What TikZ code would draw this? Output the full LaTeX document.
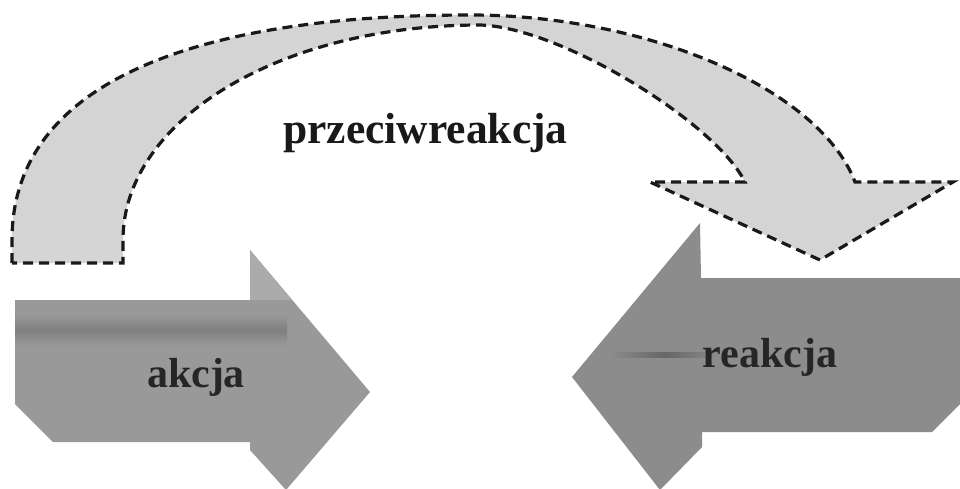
\documentclass[tikz,border=0pt]{standalone}
\usepackage{fontspec}
\setmainfont{Liberation Serif}
\begin{document}
\begin{tikzpicture}[x=1pt,y=-1pt,
  curvedarrow/.style={fill=black!17,draw=black!90,line width=3.2pt,dash pattern=on 10pt off 6pt,line join=miter},
  lbl/.style={anchor=base,inner sep=0pt,text=black!85,font=\bfseries\fontsize{42}{42}\selectfont},
]
\useasboundingbox (0,0) rectangle (960,488);
\fill[white] (0,0) rectangle (960,488);
% left arrow (akcja)
\begin{scope}
\clip (0,0) rectangle (960,488);
\fill[black!40] (15,300) -- (250,300) -- (250,250) -- (370,392) -- (286,490) -- (250,450) -- (250,442) -- (53,442) -- (15,404) -- cycle;
\fill[black!33] (250,250) -- (292,300) -- (250,300) -- cycle;
\shade[top color=black!40,bottom color=black!40,middle color=black!50] (15,314) rectangle (287,346);
% right arrow (reakcja)
\fill[black!45] (572,377) -- (700,223) -- (701,278) -- (960,278) -- (960,404) -- (932,432) -- (702,432) -- (702,447) -- (660,490) -- cycle;
\shade[left color=black!45,right color=black!45,middle color=black!60] (610,352) rectangle (720,357);
\end{scope}
% curved dashed arrow (przeciwreakcja)
\draw[curvedarrow] (12,263) -- (12,240) .. controls (12,80) and (200,15) .. (470,15)
  .. controls (650,15) and (820,90) .. (855,182) -- (953,182) -- (820,260) -- (650,182) -- (745,182)
  .. controls (715,122) and (560,27) .. (480,25) .. controls (280,25) and (123,120) .. (123,240) -- (123,263) -- cycle;
\node[lbl] (akcja) at (196,387) {akcja};
\node[lbl] (reakcja) at (770,367) {reakcja};
\node[lbl,font=\bfseries\fontsize{43.5}{44}\selectfont,text=black!90] (przeciw) at (425.5,143) {przeciwreakcja};
\end{tikzpicture}
\end{document}
